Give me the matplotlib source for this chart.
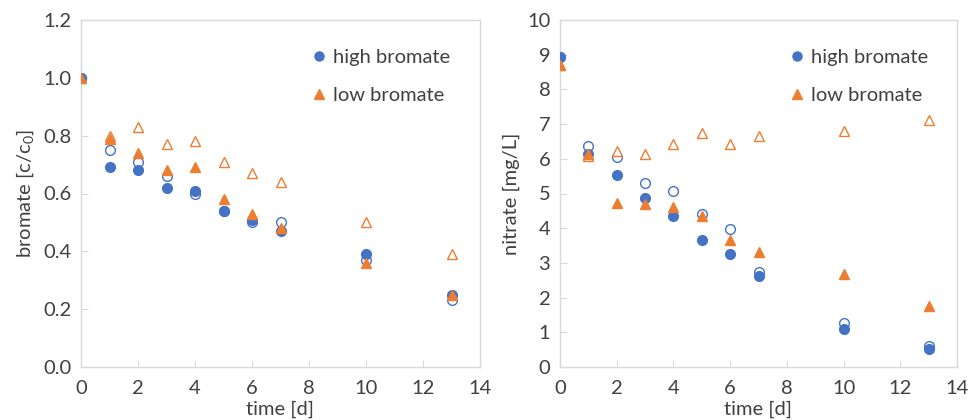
import matplotlib
matplotlib.use("Agg")
import matplotlib.pyplot as plt
from matplotlib.lines import Line2D

plt.rcParams['font.family'] = ['Lato', 'DejaVu Sans']
plt.rcParams['mathtext.fontset'] = 'custom'
plt.rcParams['mathtext.rm'] = 'Lato'
plt.rcParams['mathtext.it'] = 'Lato'

# time points [d]
time = [0, 1, 2, 3, 4, 5, 6, 7, 10, 13]

# bromate c/c0
bro_high_filled = [1.00, 0.69, 0.68, 0.62, 0.61, 0.54, 0.51, 0.47, 0.39, 0.25]
bro_high_open   = [1.00, 0.75, 0.71, 0.66, 0.60, 0.54, 0.50, 0.50, 0.37, 0.23]
bro_low_filled  = [1.00, 0.79, 0.74, 0.68, 0.69, 0.58, 0.53, 0.48, 0.36, 0.25]
bro_low_open    = [1.00, 0.80, 0.83, 0.77, 0.78, 0.71, 0.67, 0.64, 0.50, 0.39]

# nitrate mg/L
nit_high_filled = [8.94, 6.13, 5.54, 4.87, 4.34, 3.66, 3.25, 2.61, 1.09, 0.52]
nit_high_open   = [8.94, 6.38, 6.04, 5.29, 5.06, 4.41, 3.98, 2.73, 1.27, 0.60]
nit_low_filled  = [8.69, 6.13, 4.73, 4.69, 4.60, 4.35, 3.65, 3.30, 2.68, 1.75]
nit_low_open    = [8.69, 6.08, 6.23, 6.15, 6.44, 6.73, 6.44, 6.65, 6.79, 7.12]

legend_labels = ['high bromate', 'low bromate']

BLUE = '#4472C4'
ORANGE = '#ED7D31'
GRID = '#D9D9D9'
TXT = '#404040'
FS = 14.5

fig = plt.figure(figsize=(9.68, 4.2), dpi=100)
ax1 = fig.add_axes([81/968, 53/420, 399/968, 347/420])
ax2 = fig.add_axes([560/968, 53/420, 397/968, 347/420])

def draw(ax, hf, ho, lf, lo):
    ms = 7
    ax.plot(time, ho, 'o', ms=ms, mfc='white', mec=BLUE, mew=1.0, ls='none', zorder=3)
    ax.plot(time, lo, '^', ms=ms, mfc='white', mec=ORANGE, mew=1.0, ls='none', zorder=3)
    ax.plot(time, hf, 'o', ms=ms, mfc=BLUE, mec=BLUE, ls='none', zorder=4)
    ax.plot(time, lf, '^', ms=ms, mfc=ORANGE, mec=ORANGE, ls='none', zorder=5)
    for s in ax.spines.values():
        s.set_color(GRID)
        s.set_linewidth(1.0)
    ax.set_xlim(0, 14)
    ax.set_xticks(range(0, 15, 2))
    ax.tick_params(direction='in', length=5, color=GRID, labelsize=FS, labelcolor=TXT)
    ax.tick_params(axis='x', pad=9)
    ax.tick_params(axis='y', pad=7)
    ax.set_xlabel('time [d]', fontsize=FS, color=TXT, labelpad=3)
    handles = [Line2D([], [], marker='o', ls='none', color=BLUE, ms=6.5),
               Line2D([], [], marker='^', ls='none', color=ORANGE, ms=6.5)]
    ax.legend(handles, legend_labels, loc='upper left', bbox_to_anchor=(0.535, 0.97),
              frameon=False, fontsize=FS, labelspacing=1.05, handlelength=0.6,
              handletextpad=0.4, labelcolor=TXT)

draw(ax1, bro_high_filled, bro_high_open, bro_low_filled, bro_low_open)
ax1.set_ylim(0, 1.2)
ax1.set_yticks([0.0, 0.2, 0.4, 0.6, 0.8, 1.0, 1.2])
ax1.set_yticklabels(['0.0', '0.2', '0.4', '0.6', '0.8', '1.0', '1.2'])
ax1.set_ylabel('bromate [c/c$_0$]', fontsize=FS, color=TXT, labelpad=5)

draw(ax2, nit_high_filled, nit_high_open, nit_low_filled, nit_low_open)
ax2.set_ylim(0, 10)
ax2.set_yticks(range(0, 11))
ax2.set_ylabel('nitrate [mg/L]', fontsize=FS, color=TXT, labelpad=5)

fig.savefig('out.png', dpi=100)
